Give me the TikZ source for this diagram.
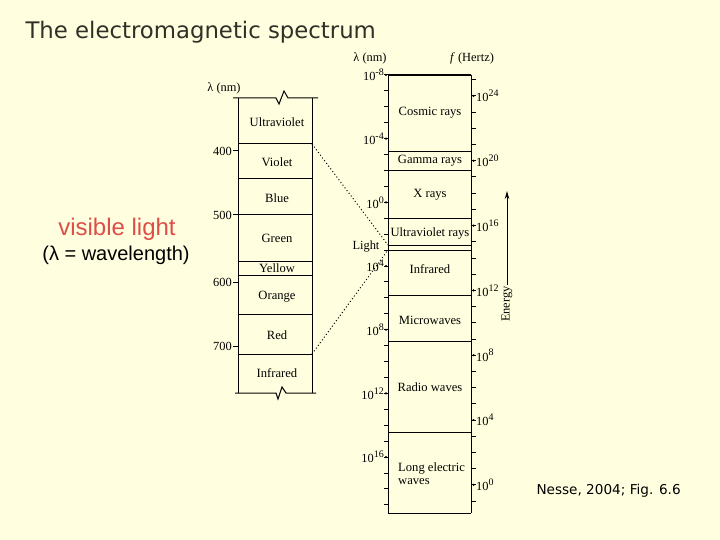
\documentclass[tikz,border=0pt]{standalone}
\usepackage{fontspec}
\setmainfont{Liberation Serif}
\setsansfont{DejaVu Sans}
\newfontfamily\arialfont{Liberation Sans}
\usepackage{tikz}
\usetikzlibrary{
arrows.meta,
positioning,
calc
}
\definecolor{slidebg}{RGB}{255,255,224}
\definecolor{titlegray}{RGB}{48,48,40}
\definecolor{vislight}{RGB}{222,78,72}
\newcommand\expo[1]{\raisebox{0.42em}{\fontsize{10}{10}\selectfont#1}}

\begin{document}
\begin{tikzpicture}[
x=1pt,y=-1pt,
colline/.style={line width=1pt},
bandlabel/.style={font=\fontsize{12.6}{13}\selectfont,inner sep=0pt},
ticklabel/.style={font=\fontsize{12.4}{13}\selectfont,inner sep=1pt},
dotline/.style={dash pattern=on 1pt off 2.4pt,line width=1pt}
]
\fill[slidebg] (0,0) rectangle (720,540);
\useasboundingbox (0,0) rectangle (720,540);

\node[anchor=west,font=\sffamily\fontsize{22.8}{26}\selectfont,text=titlegray] (title) at (22,32) {The electromagnetic spectrum};

\node[font=\arialfont\fontsize{24}{28}\selectfont,text=vislight] (vis) at (117,229) {visible light};
\node[font=\arialfont\fontsize{20}{24}\selectfont] (wave) at (116,255) {(λ = wavelength)};

% visible column
\node[ticklabel] (lamnm) at (224,88) {λ (nm)};
\draw[colline] (238,98) -- (238,393) (312,98) -- (312,393);
\draw[colline] (233,98) -- (276,98) -- (279,104) -- (284,91) -- (288,98) -- (318,98);
\draw[colline] (235,393) -- (276,393) -- (278,399) -- (282,387) -- (286,393) -- (316,393);
\foreach \y in {144,179,215,261,275,314,354}
  \draw[colline] (238,\y) -- (312,\y);
\foreach \txt/\y [count=\i] in {Ultraviolet/122,Violet/162,Blue/198,Green/238,Yellow/268,Orange/297,Red/335,Infrared/373}
  \node[bandlabel] (vband\i) at (277,\y) {\txt};
\foreach \txt/\y [count=\i] in {400/151,500/215,600/282,700/346}{
  \draw[colline] (233,\y) -- (238,\y);
  \node[ticklabel,anchor=east] (nm\i) at (233,\y) {\txt};
}

% full spectrum column
\node[ticklabel] (lamhead) at (370,58) {λ (nm)};
\node[ticklabel] (fhead) at (472,58) {\textit{f} (Hertz)};
\draw[colline] (388,75) -- (388,513) (471,75) -- (471,513);
\draw[line width=1.4pt] (388,75) -- (471,75);
\draw[colline] (388,513) -- (471,513);
\foreach \y in {152,171,219,245,250,295,341,432}
  \draw[colline] (388,\y) -- (471,\y);
\foreach \txt/\y [count=\i] in {Cosmic rays/113,Gamma rays/161,X rays/195,Ultraviolet rays/233,Infrared/269,Microwaves/320,Radio waves/387}
  \node[bandlabel] (sband\i) at (430,\y) {\txt};
\node[bandlabel,anchor=west,align=left] (sband8) at (398,474) {Long electric\\waves};

\foreach \k in {-8,...,19}
  \draw[colline] (384,{75+15.92*(\k+8)}) -- ++(4,0);
\foreach \k [count=\i] in {-8,-4,...,16}{
  \fill (386,{75+15.92*(\k+8)}) circle (1.2pt);
  \node[ticklabel,anchor=east] (lamlab\i) at (385,{75+15.92*(\k+8)}) {10\expo{\k}};
}
\foreach \k in {-1,...,25}
  \draw[colline] (471,{96+16.2*(24-\k)}) -- ++(5,0);
\foreach \k [count=\i] in {24,20,...,0}{
  \fill (473.5,{96+16.2*(24-\k)}) circle (1.2pt);
  \node[ticklabel,anchor=west] (freqlab\i) at (475,{96+16.2*(24-\k)}) {10\expo{\k}};
}

\node[ticklabel] (light) at (366,247) {Light};
\coordinate (uvtop) at (312,144);
\coordinate (irbot) at (312,354);
\coordinate (lighttop) at (388,245);
\coordinate (lightbot) at (388,250);
\draw[dotline] (uvtop) -- (lighttop);
\draw[dotline] (irbot) -- (lightbot);

% energy arrow
\node[ticklabel,rotate=90] (energy) at (507,304) {Energy};
\coordinate (etop) at (507,191);
\draw[line width=0.9pt,-{Stealth[length=8pt,width=4.5pt]}] (energy.east) -- (etop);

\node[anchor=west,font=\sffamily\fontsize{13.6}{16}\selectfont] (source) at (533,491) {Nesse, 2004; Fig. 6.6};
\end{tikzpicture}
\end{document}
